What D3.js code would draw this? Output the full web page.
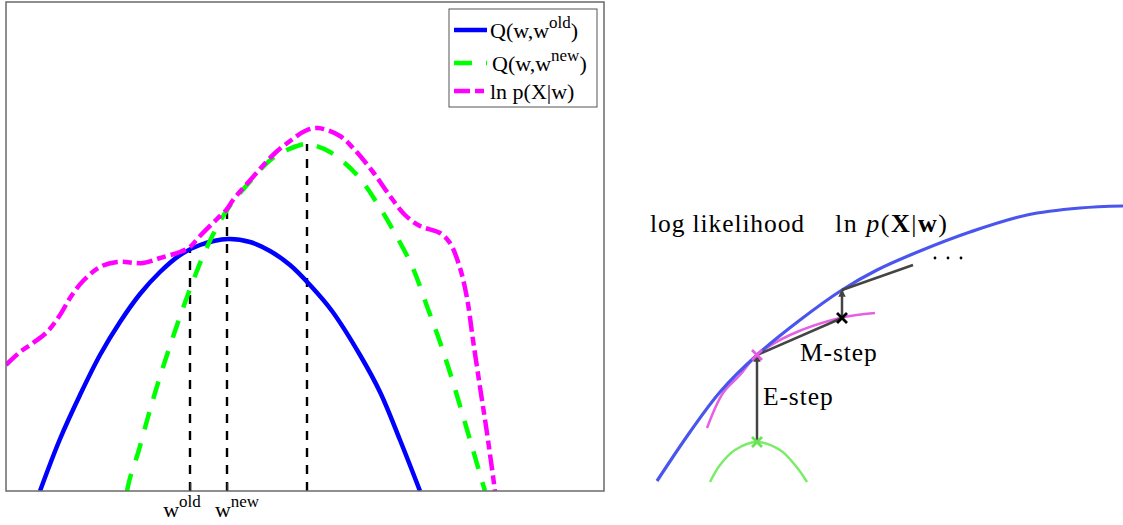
<!DOCTYPE html>
<html>
<head>
<meta charset="utf-8">
<script src="https://cdn.jsdelivr.net/npm/d3@7"></script>
<style>
  body { margin: 0; background: #fff; }
  svg { display: block; }
  text { font-family: "Liberation Serif", "Times New Roman", serif; fill: #000; }
</style>
</head>
<body>
<div id="container"></div>
<script>
// ---- left plot: [w, value] ----
var qOld = [[34,0],[54,52],[74,96],[94,136],[114,169],[134,197],[154,219],[174,236],[194,246],
  [222,252],[244,249],[264,240],[284,226],[304,206],[326,180],[354,136],[374,99],[394,51],[414,0]]

var qNew = [[121,0],[124,13],[132,38],[142,74],[152,108],[169,160],[187,210],[201,244],[221,281],
  [241,306],[267,333],[291,345],[301,347],[324,339],[351,316],[371,288],[387,261],[406,225],
  [422,182],[434,149],[446,112],[457,75],[467,41],[476,10],[479,0]]

var logLik = [[0,126],[14,139],[27,148],[41,159],[54,176],[64,193],[77,210],[94,224],[111,229],
  [137,228],[154,233],[174,239],[184,244],[194,255],[211,272],[221,282],[227,291],[247,314],
  [267,336],[284,350],[299,360],[312,363],[334,355],[347,343],[367,319],[384,295],[399,276],
  [414,265],[434,258],[444,248],[454,223],[461,193],[467,151],[474,104],[481,58],[489,0]]

var wMarks = [184, 221, 301]      // w_old, w_new, next w
var wTops = [242, 281, 347]       // where the dashed lines stop
var tickWs = [184, 221]
var tickSups = ["old", "new"]

var legendNames = [["Q(w,w", "old", ")"], ["Q(w,w", "new", ")"], ["ln p(X|w)", "", ""]]
var legendColors = ["#0000ff", "#00ff00", "#ff00ff"]
var legendDash = [null, "18,14", "16,5,9,5"]

// ---- right diagram ----
var likCurve = [[27,44],[60,93],[90,133],[127,170],[170,205],[212,235],[247,255],[290,274],
  [340,293],[397,310],[450,317],[493,319]]
var boundCurve = [[77,97],[93,132],[110,150],[127,170],[160,190],[210,207],[245,212]]
var oldBound = [[80,43],[90,60],[105,75],[127,83],[150,75],[165,60],[177,43]]
var eStep = [[127,83],[127,170]]
var mStep = [[127,170],[212,207]]
var eStep2 = [[212,207],[212,235]]
var mStep2 = [[212,235],[283,260]]
var crosses = [[127,83,"#66e455"],[127,170,"#e55be5"],[212,207,"#000"]]
var dots = [[305,267],[318,267],[331,267]]

var svg = d3.select("#container")
  .append("svg")
  .attr("width", 1123)
  .attr("height", 525)

// scales
var xL = d3.scaleLinear().domain([0, 598]).range([6, 604])
var yL = d3.scaleLinear().domain([0, 489]).range([491, 2])
var xR = d3.scaleLinear().domain([0, 493]).range([630, 1123])
var yR = d3.scaleLinear().domain([0, 525]).range([525, 0])

svg.append("clipPath").attr("id", "plotclip")
  .append("rect")
  .attr("x", xL(0)).attr("y", yL(489))
  .attr("width", xL(598) - xL(0)).attr("height", yL(0) - yL(489))

var lineL = d3.line()
  .x(function(d) { return xL(d[0]) })
  .y(function(d) { return yL(d[1]) })
  .curve(d3.curveCatmullRom)

var plot = svg.append("g").attr("clip-path", "url(#plotclip)")

// dashed verticals
plot.selectAll(".vline")
  .data(wMarks)
  .enter().append("line")
  .attr("x1", function(d) { return xL(d) })
  .attr("x2", function(d) { return xL(d) })
  .attr("y1", yL(0))
  .attr("y2", function(d, i) { return yL(wTops[i]) })
  .attr("stroke", "#000")
  .attr("stroke-width", 2.4)
  .attr("stroke-dasharray", "9,8")

var curves = [qOld, qNew, logLik]
plot.selectAll(".curve")
  .data(curves)
  .enter().append("path")
  .attr("d", lineL)
  .attr("fill", "none")
  .attr("stroke", function(d, i) { return legendColors[i] })
  .attr("stroke-width", 4.5)
  .attr("stroke-dasharray", function(d, i) { return legendDash[i] })

// frame
svg.append("rect")
  .attr("x", xL(0)).attr("y", yL(489))
  .attr("width", xL(598) - xL(0)).attr("height", yL(0) - yL(489))
  .attr("fill", "none")
  .attr("stroke", "#6a6a6a")
  .attr("stroke-width", 1.5)

// ticks
var xAxis = d3.axisBottom(xL)
  .tickValues(tickWs)
  .tickSizeInner(-8)
  .tickSizeOuter(0)
  .tickFormat("")

var axisG = svg.append("g")
  .attr("transform", "translate(0," + yL(0) + ")")
  .call(xAxis)
axisG.select(".domain").remove()
axisG.selectAll(".tick line").attr("stroke", "#333").attr("stroke-width", 1.5)

var labelShift = [-8, 10]
var tl = svg.selectAll(".tlabel")
  .data(tickWs)
  .enter().append("text")
  .attr("class", "tlabel")
  .attr("x", function(d, i) { return xL(d) + labelShift[i] })
  .attr("y", 517)
  .attr("text-anchor", "middle")
  .attr("font-size", 22)
tl.append("tspan").text("w")
tl.append("tspan")
  .attr("font-size", 17)
  .attr("dy", -10)
  .text(function(d, i) { return tickSups[i] })

// legend
svg.append("rect")
  .attr("x", 449).attr("y", 9)
  .attr("width", 148).attr("height", 98)
  .attr("fill", "#fff")
  .attr("stroke", "#555")
  .attr("stroke-width", 1)

var legendY = [30, 63, 91]
var leg = svg.selectAll(".leg")
  .data(legendNames)
  .enter().append("g")
  .attr("transform", function(d, i) { return "translate(0," + legendY[i] + ")" })

leg.append("line")
  .attr("x1", 454).attr("x2", 487)
  .attr("stroke", function(d, i) { return legendColors[i] })
  .attr("stroke-width", 4.5)
  .attr("stroke-dasharray", function(d, i) { return legendDash[i] })

var lt = leg.append("text")
  .attr("x", function(d, i) { return i == 1 ? 492 : 490 })
  .attr("y", 8)
  .attr("font-size", 22)
lt.append("tspan").text(function(d) { return d[0] })
lt.append("tspan").attr("font-size", 17).attr("dy", -10).text(function(d) { return d[1] })
lt.append("tspan").attr("dy", 10).text(function(d) { return d[2] })

// ---- right diagram ----
var lineR = d3.line()
  .x(function(d) { return xR(d[0]) })
  .y(function(d) { return yR(d[1]) })
  .curve(d3.curveCatmullRom)

svg.append("defs").append("marker")
  .attr("id", "arrow")
  .attr("viewBox", "0 0 10 10")
  .attr("refX", 9).attr("refY", 5)
  .attr("markerWidth", 3).attr("markerHeight", 3)
  .attr("orient", "auto")
  .append("path")
  .attr("d", "M0,0L10,5L0,10z")
  .attr("fill", "#444")

svg.append("path")
  .attr("d", lineR(oldBound))
  .attr("fill", "none")
  .attr("stroke", "#7aec68")
  .attr("stroke-width", 2.5)

svg.append("path")
  .attr("d", lineR(boundCurve))
  .attr("fill", "none")
  .attr("stroke", "#e660e6")
  .attr("stroke-width", 2.5)

svg.append("path")
  .attr("d", lineR(likCurve))
  .attr("fill", "none")
  .attr("stroke", "#4a55ee")
  .attr("stroke-width", 3.2)

var segs = [eStep, mStep, eStep2, mStep2]
svg.selectAll(".seg")
  .data(segs)
  .enter().append("path")
  .attr("d", function(d) { return d3.line().x(function(p) { return xR(p[0]) }).y(function(p) { return yR(p[1]) })(d) })
  .attr("stroke", "#444")
  .attr("stroke-width", 2.5)
  .attr("fill", "none")
  .attr("marker-end", function(d, i) { return (i == 0 || i == 2) ? "url(#arrow)" : null })

svg.selectAll(".cross")
  .data(crosses)
  .enter().append("path")
  .attr("d", "M-5,-5L5,5M-5,5L5,-5")
  .attr("transform", function(d) { return "translate(" + xR(d[0]) + "," + yR(d[1]) + ")" })
  .attr("stroke", function(d) { return d[2] })
  .attr("stroke-width", 2.8)

svg.selectAll(".dot")
  .data(dots)
  .enter().append("circle")
  .attr("cx", function(d) { return xR(d[0]) })
  .attr("cy", function(d) { return yR(d[1]) })
  .attr("r", 1.4)
  .attr("fill", "#000")

// labels
svg.append("text")
  .attr("x", 650).attr("y", 232)
  .attr("font-size", 25.5)
  .attr("letter-spacing", 0.9)
  .text("log likelihood")

var ll = svg.append("text")
  .attr("x", 835).attr("y", 232)
  .attr("font-size", 26)
  .attr("letter-spacing", 1.5)
ll.append("tspan").text("ln ")
ll.append("tspan").attr("font-style", "italic").text("p")
ll.append("tspan").text("(")
ll.append("tspan").attr("font-weight", "bold").text("X")
ll.append("tspan").text("|")
ll.append("tspan").attr("font-weight", "bold").text("w")
ll.append("tspan").text(")")

svg.append("text")
  .attr("x", 800).attr("y", 361)
  .attr("font-size", 25.5)
  .attr("letter-spacing", 0.9)
  .text("M-step")

svg.append("text")
  .attr("x", 763).attr("y", 405)
  .attr("font-size", 25.5)
  .attr("letter-spacing", 0.9)
  .text("E-step")
</script>
</body>
</html>
